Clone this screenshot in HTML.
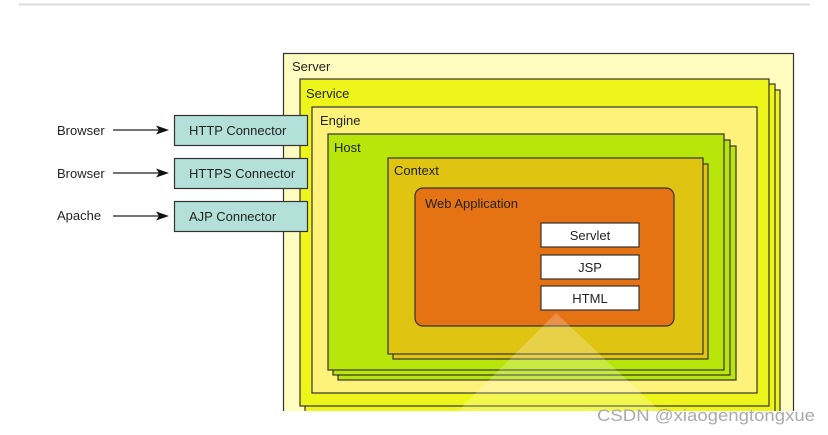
<!DOCTYPE html>
<html><head><meta charset="utf-8"><style>
html,body{margin:0;padding:0;background:#fff;width:828px;height:435px;overflow:hidden;font-family:"Liberation Sans",sans-serif;}
</style></head><body>
<svg width="828" height="435" viewBox="0 0 828 435" xmlns="http://www.w3.org/2000/svg" font-family="Liberation Sans, sans-serif" font-size="13" fill="#222">
<line x1="19" y1="4.5" x2="810" y2="4.5" stroke="#ddd" stroke-width="2"/>
<defs><clipPath id="c"><rect x="0" y="0" width="828" height="411"/></clipPath></defs>
<g clip-path="url(#c)" stroke="#333" stroke-width="1.2">
<rect x="283.5" y="53.5" width="510" height="380" fill="#fffcbf"/>
<rect x="310" y="90" width="470" height="340" fill="#eef51a"/>
<rect x="305" y="84" width="470" height="335" fill="#eef51a"/>
<rect x="300" y="79" width="469" height="327" fill="#eef51a"/>
<rect x="312" y="107" width="445" height="286" fill="#fff27a"/>
<rect x="338" y="146" width="398" height="234" fill="#b8e50a"/>
<rect x="333" y="140" width="397" height="235" fill="#b8e50a"/>
<rect x="328" y="134" width="396" height="236" fill="#b8e50a"/>
<rect x="393" y="164" width="315" height="195" fill="#e0c412"/>
<rect x="388" y="158" width="315" height="196" fill="#e0c412"/>
<rect x="415" y="188" width="259" height="138" rx="8" fill="#e57314"/>
<rect x="541" y="223" width="98" height="24" fill="#fff"/>
<rect x="541" y="255" width="98" height="24" fill="#fff"/>
<rect x="541" y="286" width="98" height="24" fill="#fff"/>
<polygon points="556,313 458,411 660,411" fill="#fff" fill-opacity="0.22" stroke="none"/>
<rect x="174.5" y="115.5" width="133" height="30" fill="#b3e0d8"/>
<rect x="174.5" y="158.5" width="133" height="30" fill="#b3e0d8"/>
<rect x="174.5" y="201.5" width="133" height="30" fill="#b3e0d8"/>
</g>
<g stroke="#222" stroke-width="1.2">
<line x1="113" y1="130" x2="162" y2="130"/><line x1="113" y1="173" x2="162" y2="173"/><line x1="113" y1="216" x2="162" y2="216"/>
</g>
<g fill="#111">
<polygon points="169,130 156,125.5 159,130 156,134.5"/>
<polygon points="169,173 156,168.5 159,173 156,177.5"/>
<polygon points="169,216 156,211.5 159,216 156,220.5"/>
</g>
<text x="57" y="135">Browser</text>
<text x="57" y="178">Browser</text>
<text x="57" y="220">Apache</text>
<text x="189" y="135">HTTP Connector</text>
<text x="189" y="178">HTTPS Connector</text>
<text x="189" y="221">AJP Connector</text>
<text x="292" y="71">Server</text>
<text x="306" y="98">Service</text>
<text x="320" y="125">Engine</text>
<text x="334" y="152">Host</text>
<text x="394" y="175">Context</text>
<text x="425" y="208">Web Application</text>
<text x="590" y="240" text-anchor="middle">Servlet</text>
<text x="590" y="272" text-anchor="middle">JSP</text>
<text x="590" y="303" text-anchor="middle">HTML</text>
<text x="597" y="421" font-size="17" fill="#aaa" textLength="218" lengthAdjust="spacingAndGlyphs">CSDN @xiaogengtongxue</text>
</svg>
</body></html>
